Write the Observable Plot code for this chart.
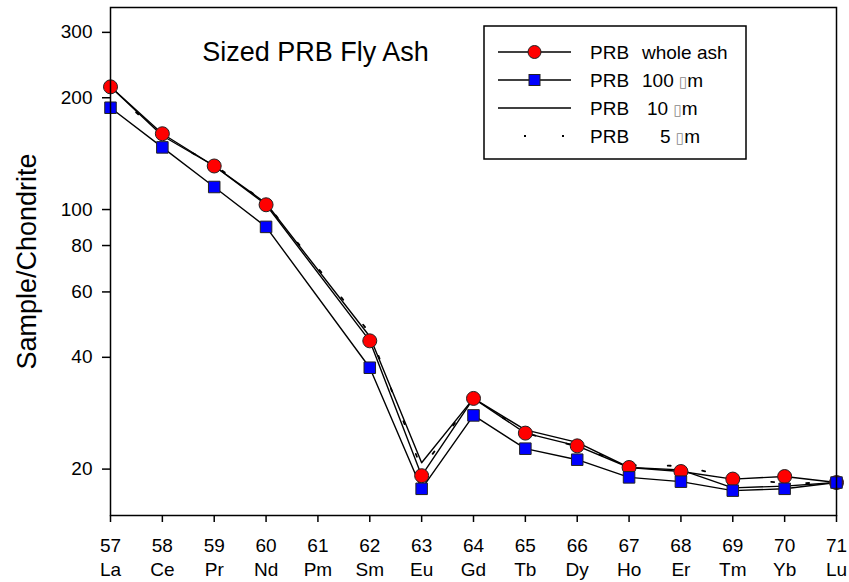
<!DOCTYPE html>
<html>
<head>
<meta charset="utf-8">
<script src="https://cdn.jsdelivr.net/npm/d3@7"></script>
<script src="https://cdn.jsdelivr.net/npm/@observablehq/plot@0.6"></script>
<style>
  html, body { margin: 0; padding: 0; background: white; }
  #chart { width: 849px; height: 582px; }
</style>
</head>
<body>
<div id="chart"></div>
<script>
// ---- data ----
const elements = ["La","Ce","Pr","Nd","Pm","Sm","Eu","Gd","Tb","Dy","Ho","Er","Tm","Yb","Lu"];
const atomicNumbers = [57,58,59,60,61,62,63,64,65,66,67,68,69,70,71];
const wholeAsh = [214,160,131,103,null,44.3,19.2,31.0,25.0,23.1,20.2,19.7,18.8,19.1,18.4];
const um100    = [188,147,115,89.8,null,37.5,17.7,27.9,22.7,21.2,19.0,18.5,17.5,17.7,18.4];
const um10     = [214,158,131,104,null,45.5,20.8,31.0,25.5,23.6,20.2,19.9,17.8,18.0,18.4];
const um5      = [212,157,132,104,null,46.5,20.0,31.2,25.0,23.0,20.5,20.4,19.0,18.3,18.4];
const yTicks = [20,40,60,80,100,200,300];
const seriesNames = ["PRB  whole ash","PRB  100 \u25AFm","PRB   10 \u25AFm","PRB    5 \u25AFm"];
const title = "Sized PRB Fly Ash";
const yLabel = "Sample/Chondrite";

function rows(vals) {
  return atomicNumbers.map((z, i) => ({z, v: vals[i]})).filter(d => d.v != null);
}
const dAsh = rows(wholeAsh), d100 = rows(um100), d10 = rows(um10), d5 = rows(um5);

const font = "'Liberation Sans', Arial, sans-serif";

const plot = Plot.plot({
  width: 849, height: 582,
  marginTop: 7, marginBottom: 67, marginLeft: 110, marginRight: 13,
  style: {fontFamily: font, fontSize: "19px", color: "black", background: "white"},
  x: {domain: [57, 71]},
  y: {type: "log", domain: [15, 350]},
  marks: [
    Plot.axisY({ticks: yTicks, tickSize: 8, tickPadding: 10, tickFormat: d => String(d), label: null, strokeWidth: 1.5}),
    Plot.axisX({ticks: atomicNumbers, tickSize: 7, tickPadding: 16, tickFormat: d => String(d), label: null, strokeWidth: 1.5}),
    Plot.axisX({ticks: atomicNumbers, tickSize: 0, tickPadding: 47, tickFormat: d => elements[d - 57], label: null}),
    Plot.line(d5,   {x: "z", y: "v", stroke: "black", strokeWidth: 1.8, strokeDasharray: "3,32"}),
    Plot.line(d10,  {x: "z", y: "v", stroke: "black", strokeWidth: 1.4}),
    Plot.line(d100, {x: "z", y: "v", stroke: "black", strokeWidth: 1.4}),
    Plot.line(dAsh, {x: "z", y: "v", stroke: "black", strokeWidth: 1.4}),
    Plot.dot(dAsh, {x: "z", y: "v", r: 7, fill: "#ff0000", stroke: "#222", strokeWidth: 1}),
    Plot.dot(d100, {x: "z", y: "v", r: 6.5, symbol: "square", fill: "#0000ff", stroke: "#222", strokeWidth: 1}),
    Plot.frame({stroke: "black", strokeWidth: 1.5})
  ]
});
document.getElementById("chart").appendChild(plot);

// ---- title, y label, legend ----
const svg = d3.select(plot);
svg.append("text").text(title)
  .attr("x", 315.5).attr("y", 61).attr("text-anchor", "middle")
  .attr("font-family", font).attr("font-size", 27).attr("fill", "black");
svg.append("text").text(yLabel)
  .attr("transform", "translate(35.5,261.5) rotate(-90)").attr("text-anchor", "middle")
  .attr("font-family", font).attr("font-size", 27).attr("fill", "black");

const lg = svg.append("g").attr("font-family", font).attr("font-size", 19).attr("text-anchor", "start");
lg.append("rect").attr("x", 484).attr("y", 26).attr("width", 262).attr("height", 133)
  .attr("fill", "white").attr("stroke", "black").attr("stroke-width", 1.5);
const rowY = [52, 80, 108, 136];
const secondX = [642, 642, 647, 660];
seriesNames.forEach((name, i) => {
  const y = rowY[i];
  const ln = lg.append("line").attr("x1", 498).attr("x2", 571).attr("y1", y).attr("y2", y)
    .attr("stroke", "black").attr("stroke-width", i === 3 ? 1.8 : 1.4);
  if (i === 3) ln.attr("x1", 524).attr("stroke-dasharray", "2,36");
  if (i === 0) lg.append("circle").attr("cx", 534.5).attr("cy", y).attr("r", 6.5)
    .attr("fill", "#ff0000").attr("stroke", "#222");
  if (i === 1) lg.append("rect").attr("x", 529).attr("y", y - 5.5).attr("width", 11).attr("height", 11)
    .attr("fill", "#0000ff").attr("stroke", "#222");
  const parts = name.split(/\s+/);
  const t = lg.append("text").attr("y", y + 7).attr("fill", "black").attr("text-anchor", "start");
  t.append("tspan").attr("x", 590).text(parts[0]);
  const rest = parts.slice(1).join(" ");
  const t2 = t.append("tspan").attr("x", secondX[i]);
  rest.split(/(\u25AF)/).forEach(s => {
    if (!s) return;
    const sp = t2.append("tspan").text(s);
    if (s === "\u25AF") sp.attr("fill", "#888").attr("font-family", "DejaVu Sans").attr("font-size", 15);
  });
});
</script>
</body>
</html>
